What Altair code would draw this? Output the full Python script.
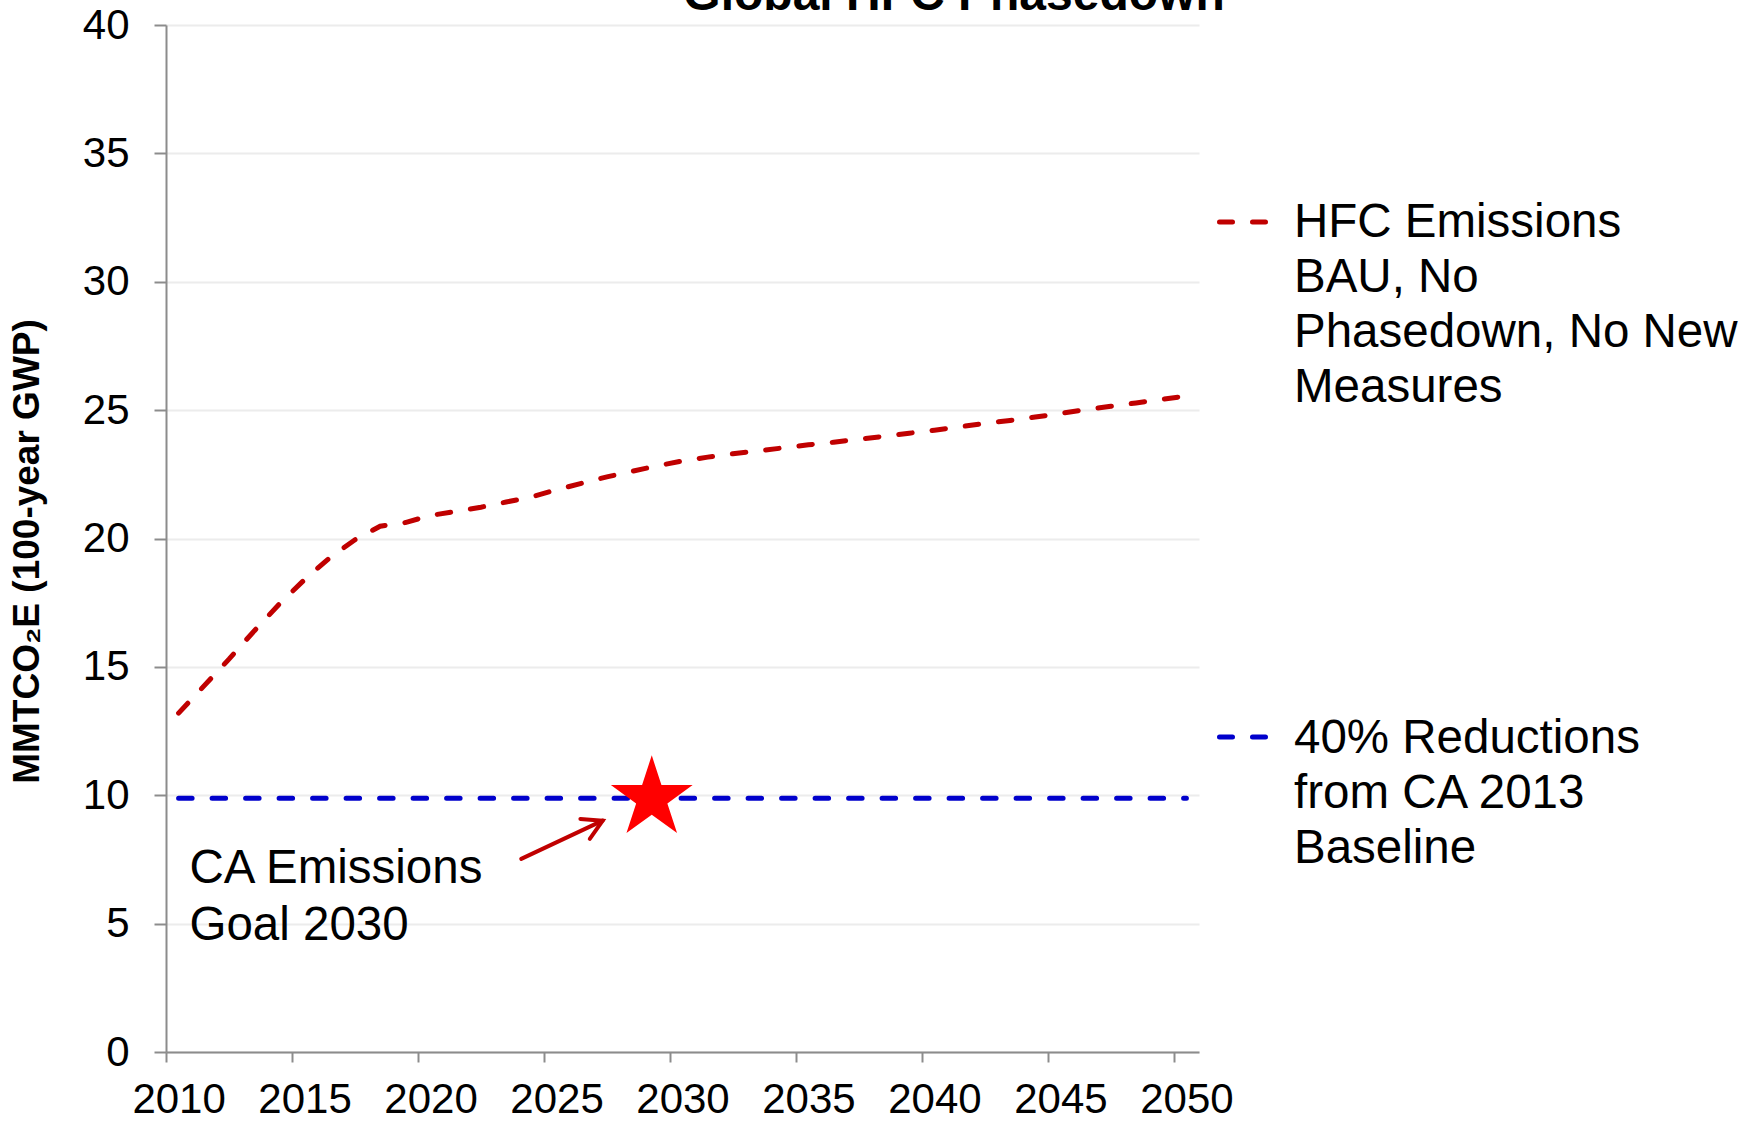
import altair as alt
import pandas as pd

# ---- data -------------------------------------------------------------
years = list(range(2010, 2051))

# HFC emissions, business as usual (MMTCO2E, 100-year GWP)
hfc_bau = [13.2, 14.25, 15.3, 16.4, 17.45, 18.4, 19.25, 19.95, 20.48, 20.62,
           20.9, 21.05, 21.22, 21.42, 21.62, 21.9, 22.15, 22.4, 22.62, 22.83,
           23.02, 23.17, 23.3, 23.41, 23.53, 23.65, 23.75, 23.87, 23.98, 24.1,
           24.22, 24.35, 24.48, 24.6, 24.73, 24.87, 25.02, 25.15, 25.28, 25.42,
           25.55]

# 40% reduction target from the CA 2013 baseline
reduction_40 = [9.88, 9.88, 9.88, 9.88, 9.88, 9.88, 9.88, 9.88, 9.88, 9.88,
                9.88, 9.88, 9.88, 9.88, 9.88, 9.88, 9.88, 9.88, 9.88, 9.88,
                9.88, 9.88, 9.88, 9.88, 9.88, 9.88, 9.88, 9.88, 9.88, 9.88,
                9.88, 9.88, 9.88, 9.88, 9.88, 9.88, 9.88, 9.88, 9.88, 9.88,
                9.88]

x_ticks = [2010, 2015, 2020, 2025, 2030, 2035, 2040, 2045, 2050]
y_ticks = [0, 5, 10, 15, 20, 25, 30, 35, 40]

series_bau = "HFC Emissions\nBAU, No\nPhasedown, No New\nMeasures"
series_target = "40% Reductions\nfrom CA 2013\nBaseline"

# goal marker and its callout (axis position units)
goal_pos = [2029.28]
goal_val = [9.88]
arrow_from = (2024.10, 7.52)
arrow_to = (2027.33, 9.01)
callout_text = "CA Emissions\nGoal 2030"
callout_at = (2010.93, 6.6)

title_text = "Global HFC Phasedown"
y_title_text = "MMTCO\u2082E (100-year GWP)"

# ---- styling ----------------------------------------------------------
FONT = "Liberation Sans"
RED = "#C00000"
BLUE = "#0000CC"
AXIS_GREY = "#8C8C8C"
W, H = 1033, 1027

bau_df = pd.DataFrame({"year": years, "value": hfc_bau})
target_df = pd.DataFrame({"year": years, "value": reduction_40})
one = pd.DataFrame({"k": [0]})

x_scale = alt.Scale(domain=[2010, 2051], nice=False, zero=False)
y_scale = alt.Scale(domain=[0, 40], nice=False)

x_axis = alt.Axis(values=x_ticks, format="d", title=None, grid=False,
                  tickSize=10, labelPadding=17.5, labelFontSize=42,
                  labelOffset=12.6, labelFlush=False, labelOverlap=False,
                  labelFont=FONT, labelColor="black",
                  domainColor=AXIS_GREY, domainWidth=2,
                  tickColor=AXIS_GREY, tickWidth=2)
y_axis = alt.Axis(values=y_ticks, title=None, grid=True,
                  gridColor="#ECECEC", gridWidth=2,
                  tickSize=12, labelPadding=25, labelFontSize=42,
                  labelFont=FONT, labelColor="black",
                  domainColor=AXIS_GREY, domainWidth=2,
                  tickColor=AXIS_GREY, tickWidth=2)

dash = [13.5, 20]

# category years sit in the middle of their slot on the axis
bau_line = alt.Chart(bau_df).transform_calculate(
    pos="datum.year + 0.5"
).mark_line(color=RED, strokeWidth=5, strokeDash=dash, strokeCap="round").encode(
    x=alt.X("pos:Q", scale=x_scale, axis=x_axis),
    y=alt.Y("value:Q", scale=y_scale, axis=y_axis),
)

target_line = alt.Chart(target_df).transform_calculate(
    pos="datum.year + 0.5"
).mark_line(color=BLUE, strokeWidth=5, strokeDash=dash, strokeCap="round").encode(
    x=alt.X("pos:Q", scale=x_scale),
    y=alt.Y("value:Q", scale=y_scale),
)

star_path = ("M0,-1 L0.225,-0.309 L0.951,-0.309 L0.363,0.118 L0.588,0.809 "
             "L0,0.382 L-0.588,0.809 L-0.363,0.118 L-0.951,-0.309 L-0.225,-0.309 Z")
goal_star = alt.Chart(pd.DataFrame({"pos": goal_pos, "value": goal_val})).mark_point(
    shape=star_path, filled=True, color="#FF0000", opacity=1, size=7396
).encode(
    x=alt.X("pos:Q", scale=x_scale),
    y=alt.Y("value:Q", scale=y_scale),
)

arrow_df = pd.DataFrame({"x0": [arrow_from[0]], "y0": [arrow_from[1]],
                         "x1": [arrow_to[0]], "y1": [arrow_to[1]]})
arrow_shaft = alt.Chart(arrow_df).mark_rule(color=RED, strokeWidth=4, strokeCap="round").encode(
    x=alt.X("x0:Q", scale=x_scale), y=alt.Y("y0:Q", scale=y_scale),
    x2="x1:Q", y2="y1:Q",
)
arrow_head = alt.Chart(arrow_df).mark_point(
    shape="M-1,-0.57 L0,0 L-1,0.57", filled=False, color=RED, strokeWidth=4,
    opacity=1, size=1505, strokeCap="round", strokeJoin="miter"
).encode(
    x=alt.X("x1:Q", scale=x_scale), y=alt.Y("y1:Q", scale=y_scale),
    angle=alt.value(334.8),
)

callout = alt.Chart(pd.DataFrame({"pos": [callout_at[0]], "value": [callout_at[1]],
                                  "label": [callout_text]})).mark_text(
    align="left", baseline="alphabetic", font=FONT, fontSize=47.5,
    lineBreak="\n", lineHeight=57, color="black"
).encode(
    x=alt.X("pos:Q", scale=x_scale), y=alt.Y("value:Q", scale=y_scale),
    text="label:N",
)

# legend drawn to the right of the plot
def legend_entry(label, color, y_line, y_text):
    swatch = alt.Chart(one).mark_rule(
        color=color, strokeWidth=5, strokeDash=[13, 20], strokeCap="round"
    ).encode(x=alt.value(1053.5), x2=alt.value(1099.5), y=alt.value(y_line))
    text = alt.Chart(one).mark_text(
        text=label, align="left", baseline="alphabetic", font=FONT,
        fontSize=47.5, lineBreak="\n", lineHeight=55, color="black"
    ).encode(x=alt.value(1128), y=alt.value(y_text))
    return swatch + text

legend_bau = legend_entry(series_bau, RED, 197, 212)
legend_target = legend_entry(series_target, BLUE, 712, 727.5)

title = alt.Chart(one).mark_text(
    text=title_text, align="center", baseline="alphabetic", font=FONT,
    fontSize=48, fontWeight="bold", color="black"
).encode(x=alt.value(788), y=alt.value(-15.5))

y_title = alt.Chart(one).mark_text(
    text=y_title_text, align="center", baseline="middle", font=FONT,
    fontSize=37, fontWeight="bold", angle=270, color="black"
).encode(x=alt.value(-138), y=alt.value(526.5))

chart = alt.layer(
    bau_line, target_line, arrow_shaft, arrow_head, goal_star, callout,
    legend_bau, legend_target, title, y_title
).properties(
    width=W, height=H,
    autosize=alt.AutoSizeParams(type="none"),
    padding={"left": 166, "top": 25, "right": 562, "bottom": 70},
    background="white",
).configure_view(stroke=None)

chart.save("out.html", embed_options={"renderer": "svg", "actions": False})
